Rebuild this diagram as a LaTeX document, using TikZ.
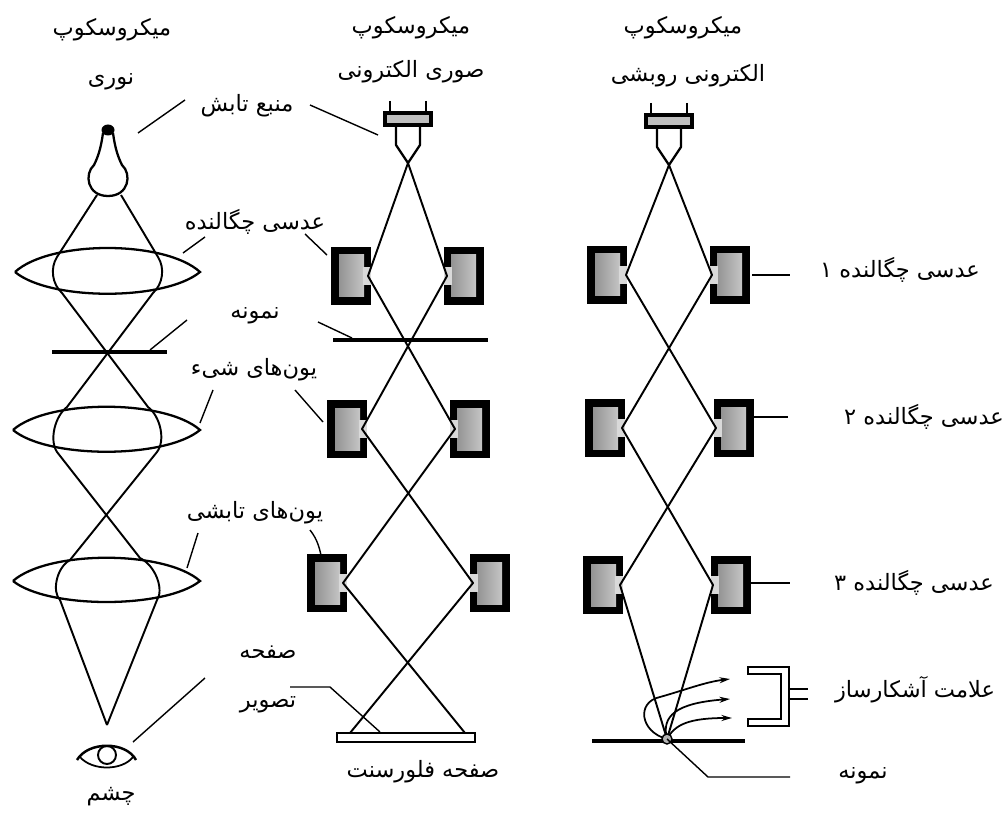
\documentclass[tikz,border=0pt]{standalone}
\usepackage{fontspec}
\newfontfamily\fa[Script=Arabic]{DejaVu Sans}
\TeXXeTstate=1
\usetikzlibrary{arrows.meta}
\newcommand\fatext[1]{\fa\beginR #1\endR}

\begin{document}
\begin{tikzpicture}[x=0.02cm,y=-0.02cm,
  lbl/.style={inner sep=0pt, font=\fontsize{12.8}{15}\selectfont},
  ray/.style={line width=1.1pt, line join=round},
  lead/.style={line width=0.8pt},
  lensline/.style={line width=1.3pt},
  bar/.style={line width=2.6pt},
  sig/.style={line width=1pt, -{Stealth[length=6pt,width=3.4pt]}},
  magnet/.pic={
    \fill[black] (-40,-29) rectangle (0,29);
    \shade[left color=gray!85, right color=gray!45] (-32,-21) rectangle (-7,21);
    \fill[gray!30] (-8,-9) rectangle (0,9);
  },
  gun/.pic={
    \draw[line width=1.1pt] (-18,-10) -- (-18,0) (18,-10) -- (18,0);
    \fill[black] (-25,0) rectangle (25,16);
    \fill[gray!50] (-21,4) rectangle (21,12);
    \draw[line width=1.3pt, line join=round] (-12,16) -- (-12,34) -- (0,52) -- (12,34) -- (12,16);
  }
]
\useasboundingbox (0,0) rectangle (1008,814);

% ---------- headings ----------
\node[lbl] (t1a) at (112,30) {\fatext{میکروسکوپ}};
\node[lbl] (t1b) at (111,82) {\fatext{نوری}};
\node[lbl] (t2a) at (411,28) {\fatext{میکروسکوپ}};
\node[lbl] (t2b) at (411,72) {\fatext{صوری الکترونی}};
\node[lbl] (t3a) at (683,28) {\fatext{میکروسکوپ}};
\node[lbl] (t3b) at (688,76) {\fatext{الکترونی روبشی}};

% ---------- shared labels between the first two columns ----------
\node[lbl] (src)  at (247,106) {\fatext{منبع تابش}};
\node[lbl] (cond) at (255,222) {\fatext{عدسی چگالنده}};
\node[lbl] (spec) at (255,316) {\fatext{نمونه}};
\node[lbl] (obj)  at (254,370) {\fatext{یون‌های شیء}};
\node[lbl] (proj) at (255,513) {\fatext{یون‌های تابشی}};
\node[lbl] (imgA) at (268,652) {\fatext{صفحه}};
\node[lbl] (imgB) at (268,705) {\fatext{تصویر}};
\node[lbl] (eyel) at (111,797) {\fatext{چشم}};
\node[lbl] (fluo) at (423,772) {\fatext{صفحه فلورسنت}};

% ---------- labels of the scanning column ----------
\node[lbl] (c1)   at (900,270) {\fatext{عدسی چگالنده ۱}};
\node[lbl] (c2)   at (924,417) {\fatext{عدسی چگالنده ۲}};
\node[lbl] (c3)   at (914,583) {\fatext{عدسی چگالنده ۳}};
\node[lbl] (det)  at (915,690) {\fatext{علامت آشکارساز}};
\node[lbl] (spc3) at (863,776) {\fatext{نمونه}};

% ---------- light microscope ----------
% lamp
\draw[line width=1.3pt] (103,133) .. controls (101,148) and (98,157) .. (94,165)
  .. controls (84,174) and (87,196) .. (108,196)
  .. controls (129,196) and (132,174) .. (122,165)
  .. controls (118,157) and (115,148) .. (113,133);
\fill (108,130) ellipse [x radius=6.5, y radius=5.5];
% lenses
\draw[lensline] (15,272) .. controls (50,240) and (165,240) .. (200,272)
  .. controls (165,301) and (50,301) .. (15,272);
\draw[lensline] (13,430) .. controls (48,399) and (165,399) .. (200,430)
  .. controls (165,459) and (48,459) .. (13,430);
\draw[lensline] (13,581) .. controls (48,550) and (165,550) .. (200,581)
  .. controls (165,609) and (48,609) .. (13,581);
% specimen
\coordinate (s1a) at (52,352); \coordinate (s1b) at (167,352);
\draw[bar] (s1a) -- (s1b);
% light paths
\coordinate (lampL) at (97,195); \coordinate (lampR) at (121,195);
\coordinate (eyept) at (107,725);
\draw[ray] (lampL) -- (57,257) .. controls (50,268) and (52,284) .. (62,293)
  -- (148,407) .. controls (160,416) and (166,440) .. (157,452)
  -- (70,560) .. controls (56,568) and (52,592) .. (60,600) -- (eyept);
\draw[ray] (lampR) -- (158,257) .. controls (165,268) and (163,284) .. (153,293)
  -- (67,407) .. controls (55,416) and (49,440) .. (57,452)
  -- (140,558) .. controls (156,566) and (164,590) .. (157,600) -- (eyept);
% eye
\draw[line width=1.4pt] (77,760) .. controls (88,741) and (126,741) .. (136,760);
\draw[line width=1pt] (80,757) .. controls (92,771) and (122,771) .. (133,757);
\draw[line width=1.1pt] (107,755) circle [radius=9];

% ---------- transmission electron microscope ----------
\pic at (408,111) {gun};
\coordinate (g2) at (408,163);
\pic at (371,276) {magnet};
\pic[xscale=-1] at (444,276) {magnet};
\pic at (367,429) {magnet};
\pic[xscale=-1] at (450,429) {magnet};
\pic at (347,583) {magnet};
\pic[xscale=-1] at (470,583) {magnet};
\coordinate (s2a) at (333,340); \coordinate (s2b) at (488,340);
\draw[bar] (s2a) -- (s2b);
\coordinate (v2a) at (368,276); \coordinate (v2b) at (447,276);
\coordinate (v2c) at (362,429); \coordinate (v2d) at (455,429);
\coordinate (v2e) at (343,583); \coordinate (v2f) at (473,583);
\coordinate (sc2a) at (350,733); \coordinate (sc2b) at (465,733);
\draw[ray] (g2) -- (v2a) -- (v2d) -- (v2e) -- (sc2b);
\draw[ray] (g2) -- (v2b) -- (v2c) -- (v2f) -- (sc2a);
\draw[line width=1.1pt, fill=white] (337,733) rectangle (475,742);

% ---------- scanning electron microscope ----------
\pic at (669,113) {gun};
\coordinate (g3) at (669,165);
\pic at (627,275) {magnet};
\pic[xscale=-1] at (710,275) {magnet};
\pic at (625,428) {magnet};
\pic[xscale=-1] at (714,428) {magnet};
\pic at (623,585) {magnet};
\pic[xscale=-1] at (711,585) {magnet};
\coordinate (v3a) at (626,275); \coordinate (v3b) at (712,275);
\coordinate (v3c) at (622,428); \coordinate (v3d) at (716,428);
\coordinate (v3e) at (620,585); \coordinate (v3f) at (713,585);
\coordinate (p3) at (667,739);
\draw[ray] (g3) -- (v3a) -- (v3d) -- (v3e) -- (p3);
\draw[ray] (g3) -- (v3b) -- (v3c) -- (v3f) -- (p3);
\coordinate (s3a) at (592,741); \coordinate (s3b) at (745,741);
\draw[bar] (s3a) -- (s3b);
% emitted signal
\coordinate (a1) at (730,679); \coordinate (a2) at (730,699); \coordinate (a3) at (732,718);
\draw[sig] (p3) .. controls (640,732) and (636,702) .. (660,697)
  .. controls (685,690) and (705,682) .. (a1);
\draw[sig] (p3) .. controls (661,716) and (676,703) .. (a2);
\draw[sig] (p3) .. controls (675,724) and (690,718) .. (a3);
\filldraw[fill=gray!60, line width=0.8pt] (p3) circle [radius=5];
% detector
\draw[line width=1pt, fill=white] (748,667) -- (789,667) -- (789,726) -- (748,726)
  -- (748,719) -- (781,719) -- (781,674) -- (748,674) -- cycle;
\coordinate (w1a) at (789,689); \coordinate (w1b) at (808,689);
\coordinate (w2a) at (789,699); \coordinate (w2b) at (808,699);
\draw[lead] (w1a) -- (w1b) (w2a) -- (w2b);

% ---------- leader lines ----------
\coordinate (srcA) at (185,100); \coordinate (srcB) at (138,133);
\coordinate (srcC) at (310,105); \coordinate (srcD) at (378,135);
\draw[lead] (srcA) -- (srcB) (srcC) -- (srcD);
\coordinate (cdA) at (205,237); \coordinate (cdB) at (183,253);
\coordinate (cdC) at (305,234); \coordinate (cdD) at (327,255);
\draw[lead] (cdA) -- (cdB) (cdC) -- (cdD);
\coordinate (spA) at (187,320); \coordinate (spB) at (150,350);
\coordinate (spC) at (318,322); \coordinate (spD) at (352,338);
\draw[lead] (spA) -- (spB) (spC) -- (spD);
\coordinate (obA) at (213,390); \coordinate (obB) at (200,423);
\coordinate (obC) at (295,390); \coordinate (obD) at (323,422);
\draw[lead] (obA) -- (obB) (obC) -- (obD);
\coordinate (prA) at (198,533); \coordinate (prB) at (187,568);
\coordinate (prC) at (310,530); \coordinate (prD) at (322,560);
\draw[lead] (prA) -- (prB);
\draw[lead] (prC) .. controls (318,540) and (320,550) .. (prD);
\coordinate (imA) at (205,678); \coordinate (imB) at (133,742);
\coordinate (imC) at (290,687); \coordinate (imD) at (330,687); \coordinate (imE) at (380,732);
\draw[lead] (imA) -- (imB);
\draw[lead] (imC) -- (imD) -- (imE);
% scanning column leaders
\coordinate (r1a) at (752,275); \coordinate (r1b) at (790,275);
\coordinate (r2a) at (754,417); \coordinate (r2b) at (788,417);
\coordinate (r3a) at (751,583); \coordinate (r3b) at (790,583);
\draw[lead] (r1a) -- (r1b) (r2a) -- (r2b) (r3a) -- (r3b);
\coordinate (n3a) at (708,777); \coordinate (n3b) at (790,777);
\draw[lead] (p3) -- (n3a) -- (n3b);
\end{tikzpicture}
\end{document}
